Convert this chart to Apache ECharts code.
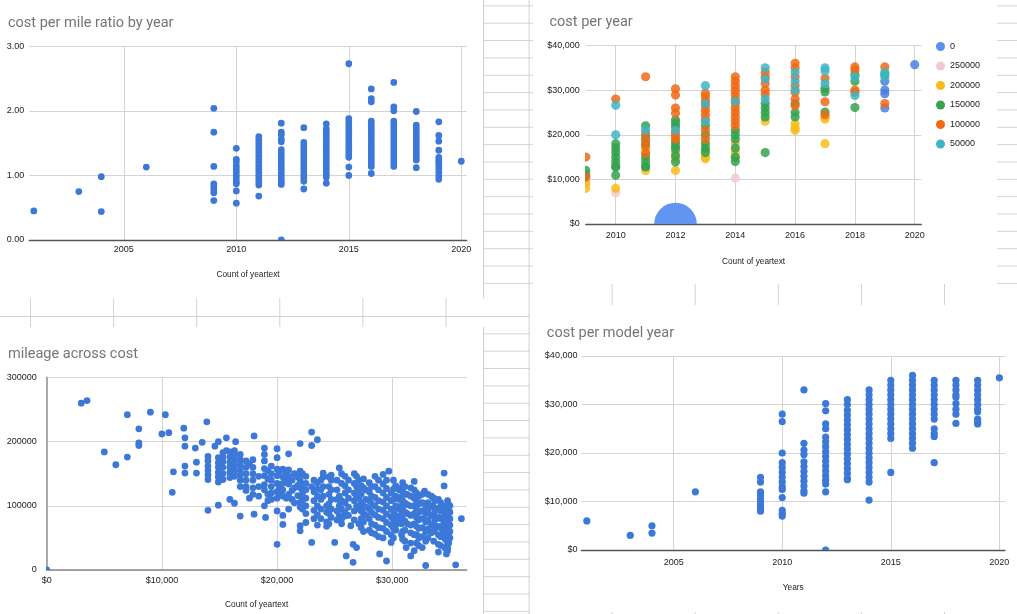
<!DOCTYPE html>
<html>
<head>
<meta charset="utf-8">
<script src="https://cdn.jsdelivr.net/npm/echarts@6/dist/echarts.min.js"></script>
<style>
html, body { margin: 0; padding: 0; width: 1017px; height: 614px; overflow: hidden; background: #fff; }
.sheet { position: absolute; left: 0; width: 1017px;
  background-image: linear-gradient(to right, #d2d2d2 0, #d2d2d2 1px, transparent 1px),
                    linear-gradient(to bottom, #d2d2d2 0, #d2d2d2 1px, transparent 1px);
  background-size: 83.1px 100%, 100% 17.35px; }
#bgTop { top: 0; height: 300px; background-position: 30px 0, 0 5.4px; }
#bgBot { top: 300px; height: 314px; background-position: 30px 0, 0 16px; }
.panel { position: absolute; background: #fff; }
#p1 { left: 0; top: 0; width: 483px; height: 298px; border-right: 1px solid #cfcfcf; }
#p2 { left: 533px; top: 0; width: 464px; height: 284px; }
#p3 { left: 0; top: 327px; width: 483px; height: 287px; border-right: 1px solid #cfcfcf; }
#p4 { left: 530px; top: 305px; width: 487px; height: 307px; }
</style>
</head>
<body>
<div id="bgTop" class="sheet"></div>
<div id="bgBot" class="sheet"></div>
<div id="p1" class="panel"></div>
<div id="p2" class="panel"></div>
<div id="p3" class="panel"></div>
<div id="p4" class="panel"></div>
<script>
// ---- cost per mile ratio by year ----
var ratioYears = [2001, 2003, 2004, 2006, 2009, 2010, 2011, 2012, 2013, 2014, 2015, 2016, 2017, 2018, 2019, 2020];
var ratioValues = [
    [0.45],
    [0.75],
    [0.98, 0.44],
    [1.13],
    [2.04, 1.67, 1.14, 0.87, 0.82, 0.78, 0.73, 0.61],
    [1.42, 1.25, 1.21, 1.15, 1.10, 1.05, 1.00, 0.95, 0.90, 0.87, 0.76, 0.57],
    [1.60, 1.55, 1.50, 1.45, 1.40, 1.35, 1.30, 1.25, 1.20, 1.15, 1.10, 1.05, 1.00, 0.95, 0.90, 0.85, 0.68],
    [1.81, 1.67, 1.63, 1.56, 1.52, 1.40, 1.35, 1.30, 1.25, 1.20, 1.15, 1.10, 1.05, 1.00, 0.95, 0.90, 0.86, 0.00],
    [1.74, 1.51, 1.46, 1.41, 1.36, 1.31, 1.26, 1.21, 1.16, 1.11, 1.06, 1.01, 0.96, 0.91, 0.79],
    [1.80, 1.72, 1.67, 1.62, 1.57, 1.52, 1.47, 1.42, 1.37, 1.32, 1.27, 1.22, 1.17, 1.12, 1.07, 1.02, 0.97, 0.88],
    [2.73, 1.88, 1.83, 1.78, 1.73, 1.68, 1.63, 1.58, 1.53, 1.48, 1.43, 1.38, 1.33, 1.28, 1.13, 1.00],
    [2.34, 2.19, 2.14, 1.84, 1.79, 1.74, 1.69, 1.64, 1.59, 1.54, 1.49, 1.44, 1.39, 1.34, 1.29, 1.24, 1.19, 1.14, 1.03],
    [2.44, 2.06, 2.00, 1.84, 1.79, 1.74, 1.69, 1.64, 1.59, 1.54, 1.49, 1.44, 1.39, 1.34, 1.29, 1.24, 1.19, 1.14],
    [1.99, 1.78, 1.73, 1.68, 1.63, 1.58, 1.53, 1.48, 1.43, 1.38, 1.33, 1.28, 1.24, 1.12],
    [1.83, 1.62, 1.53, 1.39, 1.28, 1.24, 1.20, 1.15, 1.10, 1.05, 0.99, 0.94],
    [1.22]
];
var yearTicks5 = [2005, 2010, 2015, 2020];

// ---- cost per year (bubble series by mileage group) ----
var yearTicks2 = [2010, 2012, 2014, 2016, 2018, 2020];
var groupNames = ['0', '250000', '200000', '150000', '100000', '50000'];
var group0 = [[2019, 32000], [2019, 30000], [2019, 29200], [2019, 26000], [2020, 35700]];
var group0Bubble = [[2012, 0]];
var group250k = [[2009, 9500], [2010, 7000], [2014, 10300]];
var group200k = [[2009, 9000], [2009, 8000], [2010, 8000], [2011, 17000], [2011, 16000], [2011, 12000],
    [2012, 16000], [2012, 14600], [2012, 12000], [2013, 16500], [2013, 15000], [2013, 14600],
    [2014, 18000], [2014, 16000], [2014, 15000], [2015, 23000], [2016, 22500], [2016, 21500],
    [2016, 21000], [2017, 24000], [2017, 23500], [2017, 18000]];
var group150k = [[2009, 12000], [2009, 11000], [2010, 18000], [2010, 17000], [2010, 16000], [2010, 15000],
    [2010, 14000], [2010, 13000], [2010, 12700], [2010, 10900], [2011, 22000], [2011, 19500],
    [2011, 18000], [2011, 15000], [2011, 14000], [2011, 13000], [2011, 12800], [2012, 23300],
    [2012, 22500], [2012, 21800], [2012, 18300], [2012, 17500], [2012, 16800], [2012, 15300],
    [2012, 13900], [2013, 22000], [2013, 20000], [2013, 18000], [2013, 17000], [2013, 16000],
    [2014, 21000], [2014, 20000], [2014, 19000], [2014, 17000], [2014, 15000], [2014, 14000],
    [2015, 27000], [2015, 26000], [2015, 25000], [2015, 24000], [2015, 16000], [2016, 27000],
    [2016, 25000], [2016, 24000], [2017, 30400], [2017, 29600], [2017, 25100], [2018, 33500],
    [2018, 32000], [2018, 26100], [2019, 33500]];
var group100k = [[2009, 15000], [2009, 10500], [2010, 28000], [2011, 33000], [2011, 20300], [2011, 18800],
    [2011, 17500], [2011, 15800], [2012, 30300], [2012, 28900], [2012, 26000], [2012, 24800],
    [2012, 20500], [2012, 19800], [2012, 19000], [2013, 29300], [2013, 28500], [2013, 27500],
    [2013, 26500], [2013, 25500], [2013, 24500], [2013, 23500], [2013, 21000], [2013, 19000],
    [2014, 33000], [2014, 32000], [2014, 31000], [2014, 30000], [2014, 29000], [2014, 28000],
    [2014, 27000], [2014, 26000], [2014, 25000], [2014, 24000], [2014, 23000], [2014, 22000],
    [2015, 34000], [2015, 33000], [2015, 31500], [2015, 30000], [2015, 29000], [2016, 36000],
    [2016, 35000], [2016, 33000], [2016, 31000], [2016, 29500], [2016, 28000], [2016, 26500],
    [2017, 32600], [2017, 27400], [2017, 24500], [2018, 35200], [2018, 34500], [2018, 30000],
    [2018, 29500], [2019, 35200], [2019, 27000]];
var group50k = [[2010, 26600], [2010, 20000], [2011, 21000], [2012, 21000], [2013, 31000], [2013, 27000],
    [2013, 23000], [2014, 27500], [2015, 35000], [2015, 32500], [2015, 28000], [2016, 34000],
    [2016, 32000], [2016, 30000], [2017, 35000], [2017, 34300], [2017, 31500], [2018, 33000],
    [2018, 28800], [2019, 34000], [2019, 33000]];

// ---- mileage across cost: [cost in $1000s, [mileages in 1000s]] ----
var costTicks = [0, 10000, 20000, 30000];
var mileColumns = [
    [0, [0]], [3.0, [260]], [3.5, [264]], [5.0, [184]], [6.0, [164]], [7.0, [242, 176]],
    [8.0, [220, 198, 194]], [9.0, [246]], [10.0, [212]], [10.3, [242]], [10.6, [214]], [10.9, [121]],
    [11.0, [153]], [11.9, [221]], [12.0, [206, 193, 162, 151]], [12.9, [190]], [13.0, [168, 151]],
    [13.5, [199]], [13.9, [231]], [14.0, [177, 170, 162, 155, 148, 141, 93]], [14.6, [193]],
    [14.9, [200, 175, 167, 160, 152, 145, 137, 101]], [15.3, [183, 176, 169, 160, 150, 141]],
    [15.6, [206, 186]], [15.9, [184, 176, 168, 160, 152, 144, 110]],
    [16.3, [186, 178, 170, 162, 154, 146, 104]], [16.4, [200]],
    [16.8, [180, 172, 164, 156, 148, 140, 130, 84]], [17.3, [170, 160, 150, 140, 130, 124]],
    [17.6, [165, 112]], [17.9, [172, 160, 150, 140, 128, 118]], [18.0, [209, 87]],
    [18.4, [146, 130, 115]], [18.9, [190, 180, 170, 158, 147, 133, 125, 100]], [19.0, [82]],
    [19.2, [155, 142, 118, 108]], [19.5, [162, 150, 140, 130, 120, 110]],
    [20.0, [189, 175, 157, 147, 135, 122, 112, 92, 40]], [20.2, [152, 128, 118]],
    [20.5, [157, 145, 135, 125, 115, 85, 71]], [20.8, [150, 140, 112]],
    [21.0, [181, 156, 146, 134, 118, 95]], [21.3, [140, 124, 110]], [21.5, [150, 128, 105]],
    [21.8, [145, 132, 116]], [22.0, [197, 154, 140, 128, 115, 105, 98, 69, 61]],
    [22.2, [150, 132, 120, 108, 95]], [22.5, [146, 135, 125, 112, 100, 88, 74]],
    [23.0, [215, 194, 130, 43]], [23.2, [140, 122, 108, 93, 80]],
    [23.5, [203, 136, 126, 115, 100, 86, 70]], [23.8, [140, 125, 110, 95, 80]],
    [24.0, [151, 145, 130, 115]], [24.3, [100, 90, 75, 68]], [24.5, [145, 130, 118, 103, 88, 72]],
    [24.7, [148, 140, 125, 110, 95, 82]], [25.0, [43]], [25.2, [140, 125, 110, 92, 78]],
    [25.4, [159, 115, 100, 85]], [25.6, [150, 135, 108, 95, 80, 72]],
    [25.9, [146, 131, 120, 105, 90, 84]], [26.0, [22]], [26.2, [140, 125, 112, 98, 85]],
    [26.4, [69]], [26.6, [40, 12]], [26.7, [150, 135, 120, 108, 92, 78]],
    [26.9, [146, 130, 115, 100, 35]], [27.1, [140, 125, 112, 95, 72]],
    [27.3, [131, 118, 105, 92, 80, 66]], [27.5, [142, 128, 100, 88, 75, 60]],
    [27.7, [125, 110, 98, 85]], [28.0, [136, 122, 108, 95, 80, 62]],
    [28.2, [130, 115, 103, 90, 72, 58]], [28.5, [146, 130, 113, 100, 86, 70, 56]],
    [28.8, [140, 125, 108, 95, 82, 66, 52]], [28.9, [25]],
    [29.2, [149, 134, 120, 106, 93, 80, 65, 50]], [29.5, [140, 127, 113, 100, 87, 74, 60, 14]],
    [29.7, [154]], [29.9, [120, 108, 95, 83, 70, 55, 43]], [30.1, [140, 126, 110, 92, 78, 65, 50]],
    [30.3, [131, 115, 100, 85, 70, 62]], [30.6, [125, 110, 95, 78]], [30.8, [128, 114, 100, 86, 72, 55]],
    [30.9, [136, 122, 108, 95, 80, 60, 48]], [31.1, [130, 118, 104, 90, 76, 62, 45]], [31.2, [35]],
    [31.3, [118, 102, 88, 72]], [31.6, [128, 115, 100, 85, 70, 58, 42, 22]],
    [31.9, [138, 125, 112, 100, 88, 72, 55, 30]], [32.1, [120, 108, 95, 82, 68, 55, 42]],
    [32.3, [115, 103, 90, 78, 65, 50, 38]], [32.6, [118, 105, 92, 80, 66, 52, 35]], [32.8, [123]],
    [32.9, [100, 88, 75, 60, 45, 7]], [33.1, [118, 105, 92, 78, 64, 50]],
    [33.4, [115, 100, 85, 70, 58]], [33.6, [112, 98, 85, 72, 60, 45]], [33.7, [108, 92, 78, 64]],
    [34.0, [110, 96, 82, 68, 55, 40, 28]], [34.2, [105, 92, 80, 66, 52, 38]],
    [34.4, [95, 82, 70, 58]], [34.5, [151, 131]], [34.6, [100, 88, 75, 62, 48, 34]], [34.7, [25]],
    [34.8, [108, 95, 85, 75, 65, 55, 45, 40, 35, 30]], [34.9, [102, 90, 78, 68, 58, 50, 42]],
    [35.0, [100, 90, 80, 70, 60, 50]], [35.5, [8]], [36.0, [80]]
];

// ---- cost per model year ----
var modelYears = [2001, 2003, 2004, 2006, 2009, 2010, 2011, 2012, 2013, 2014, 2015, 2016, 2017, 2018, 2019, 2020];
var modelCosts = [
    [6000],
    [3000],
    [5000, 3500],
    [12000],
    [15000, 14000, 12000, 11300, 10500, 9800, 9000, 8500, 8000],
    [28000, 26500, 20000, 18000, 17000, 16000, 15000, 14000, 13000, 12500, 10800, 8200, 7500, 7000],
    [33000, 22000, 20600, 19700, 18200, 17200, 16200, 15200, 14200, 13200, 12200, 11700],
    [30200, 28700, 26000, 25000, 23300, 22300, 21300, 20300, 19300, 18300, 17300, 16300, 15300, 14400, 13600, 12000, 0],
    [31000, 30000, 28800, 27800, 26800, 25800, 24800, 23800, 22800, 21800, 20800, 19800, 18800, 17800, 16800, 15800, 14800, 14500],
    [33000, 32000, 31000, 30000, 29000, 28000, 27000, 26000, 25000, 24000, 23000, 22000, 21000, 20000, 19000, 18000, 17000, 16000, 15000, 14000, 10300],
    [35000, 34000, 33000, 32000, 31000, 30000, 29000, 28000, 27000, 26000, 25000, 24000, 23000, 16000],
    [36000, 35000, 34000, 33000, 32000, 31000, 30000, 29000, 28000, 27000, 26000, 25000, 24000, 23000, 22000, 21000],
    [35000, 34000, 33000, 32000, 31000, 30000, 29000, 28000, 27000, 25000, 24000, 23400, 18000],
    [35000, 34000, 33000, 32000, 31500, 30200, 29000, 28000, 26100],
    [35000, 34000, 33000, 32000, 31000, 30000, 29000, 28500, 27000, 26500, 26000],
    [35500]
];

var dotBlue = '#3c78d8';
var groupColors = ['#4a7fdc', '#f0c9d1', '#f6bd1c', '#34a24f', '#f06a15', '#3fb5c4'];
var labelFamily = '"Liberation Sans", Arial, sans-serif';
var titleStyle = {color: '#757575', fontSize: 14.5, fontWeight: 'normal', fontFamily: 'Roboto, "Liberation Sans", sans-serif'};
var nameStyle = {color: '#222', fontSize: 8.3, fontFamily: labelFamily};
var gridLine = {show: true, lineStyle: {color: '#d4d4d4', width: 1}};

function flatten(xs, groups) {
    var out = [];
    for (var i = 0; i < xs.length; i++) {
        for (var j = 0; j < groups[i].length; j++) {
            out.push([xs[i], groups[i][j]]);
        }
    }
    return out;
}

function flattenColumns(cols) {
    var out = [];
    for (var i = 0; i < cols.length; i++) {
        for (var j = 0; j < cols[i][1].length; j++) {
            out.push([cols[i][0] * 1000, cols[i][1][j] * 1000]);
        }
    }
    return out;
}

// custom series so the dots get clipped at the plot edges like in Sheets
function dotSeries(name, data, color, r, alpha) {
    return {
        name: name,
        type: 'custom',
        clip: true,
        data: data,
        encode: {x: 0, y: 1},
        itemStyle: {color: color},
        renderItem: function (params, api) {
            var p = api.coord([api.value(0), api.value(1)]);
            return {
                type: 'circle',
                shape: {cx: p[0], cy: p[1], r: r},
                style: {fill: color, opacity: alpha}
            };
        }
    };
}

function label(margin, formatter, customValues) {
    var l = {color: '#222', fontSize: 9, fontFamily: labelFamily, margin: margin, formatter: formatter};
    if (customValues) { l.customValues = customValues; }
    return l;
}

function plain(v) { return String(v); }
function money(v) { return '$' + Number(v).toLocaleString('en-US'); }

// chart 1
var c1 = echarts.init(document.getElementById('p1'));
c1.setOption({
    animation: false,
    title: {text: 'cost per mile ratio by year', left: 8, top: 15.5, padding: 0, textStyle: titleStyle},
    grid: {left: 29.3, right: 16.3, top: 46.3, bottom: 58},
    xAxis: {
        type: 'value', min: 2000.8, max: 2020.24, z: 1,
        name: 'Count of yeartext', nameLocation: 'middle', nameGap: 31, nameTextStyle: nameStyle,
        axisLine: {show: true, onZero: true, lineStyle: {color: '#555', width: 1.3}},
        axisTick: {show: false, customValues: yearTicks5},
        axisLabel: label(5, plain, yearTicks5),
        splitLine: gridLine
    },
    yAxis: {
        type: 'value', min: 0, max: 3, interval: 1,
        axisLine: {show: false}, axisTick: {show: false},
        axisLabel: label(5, function (v) { return v.toFixed(2); }),
        splitLine: gridLine
    },
    series: [dotSeries('ratio', flatten(ratioYears, ratioValues), dotBlue, 3.4, 1)]
});

// chart 2
var c2 = echarts.init(document.getElementById('p2'));
var groupData = [group0, group250k, group200k, group150k, group100k, group50k];
var s2 = [dotSeries('0', group0Bubble, '#5a8ef0', 21.3, 0.95)];
for (var g = 0; g < groupNames.length; g++) {
    s2.push(dotSeries(groupNames[g], groupData[g], groupColors[g], 4.6, 0.85));
}
c2.setOption({
    animation: false,
    title: {text: 'cost per year', left: 16.5, top: 14.5, padding: 0, textStyle: titleStyle},
    legend: {
        data: groupNames, orient: 'vertical', left: 403, top: 42, padding: 0,
        icon: 'circle', itemWidth: 9, itemHeight: 9, itemGap: 10.5, selectedMode: false,
        textStyle: {color: '#222', fontSize: 9, fontFamily: labelFamily}
    },
    grid: {left: 52.8, right: 75.7, top: 45.5, bottom: 60},
    xAxis: {
        type: 'value', min: 2009, max: 2020.22, z: 1,
        name: 'Count of yeartext', nameLocation: 'middle', nameGap: 34, nameTextStyle: nameStyle,
        axisLine: {show: true, onZero: true, lineStyle: {color: '#555', width: 1.3}},
        axisTick: {show: false, customValues: yearTicks2},
        axisLabel: label(7, plain, yearTicks2),
        splitLine: gridLine
    },
    yAxis: {
        type: 'value', min: 0, max: 40000, interval: 10000,
        axisLine: {show: false}, axisTick: {show: false},
        axisLabel: label(6, money),
        splitLine: gridLine
    },
    series: s2
});

// chart 3
var c3 = echarts.init(document.getElementById('p3'));
c3.setOption({
    animation: false,
    title: {text: 'mileage across cost', left: 8, top: 19.5, padding: 0, textStyle: titleStyle},
    grid: {left: 46.7, right: 16.3, top: 50.5, bottom: 43},
    xAxis: {
        type: 'value', min: 0, max: 36460, z: 1,
        name: 'Count of yeartext', nameLocation: 'middle', nameGap: 31, nameTextStyle: nameStyle,
        axisLine: {show: true, onZero: true, lineStyle: {color: '#888', width: 1.5}},
        axisTick: {show: false, customValues: costTicks},
        axisLabel: label(6, money, costTicks),
        splitLine: gridLine
    },
    yAxis: {
        type: 'value', min: 0, max: 300000, interval: 100000, z: 1,
        axisLine: {show: true, onZero: true, lineStyle: {color: '#aaa', width: 2}},
        axisTick: {show: false},
        axisLabel: label(10, plain),
        splitLine: gridLine
    },
    series: [dotSeries('mileage', flattenColumns(mileColumns), dotBlue, 3.4, 1)]
});

// chart 4
var c4 = echarts.init(document.getElementById('p4'));
c4.setOption({
    animation: false,
    title: {text: 'cost per model year', left: 16.8, top: 21, padding: 0, textStyle: titleStyle},
    grid: {left: 51.4, right: 12, top: 51, bottom: 62},
    xAxis: {
        type: 'value', min: 2000.75, max: 2020.26, z: 1,
        name: 'Years', nameLocation: 'middle', nameGap: 34, nameTextStyle: nameStyle,
        axisLine: {show: true, onZero: true, lineStyle: {color: '#555', width: 1.3}},
        axisTick: {show: false, customValues: yearTicks5},
        axisLabel: label(8, plain, yearTicks5),
        splitLine: gridLine
    },
    yAxis: {
        type: 'value', min: 0, max: 40000, interval: 10000,
        axisLine: {show: false}, axisTick: {show: false},
        axisLabel: label(4, money),
        splitLine: gridLine
    },
    series: [dotSeries('cost', flatten(modelYears, modelCosts), dotBlue, 3.6, 1)]
});
</script>
</body>
</html>
